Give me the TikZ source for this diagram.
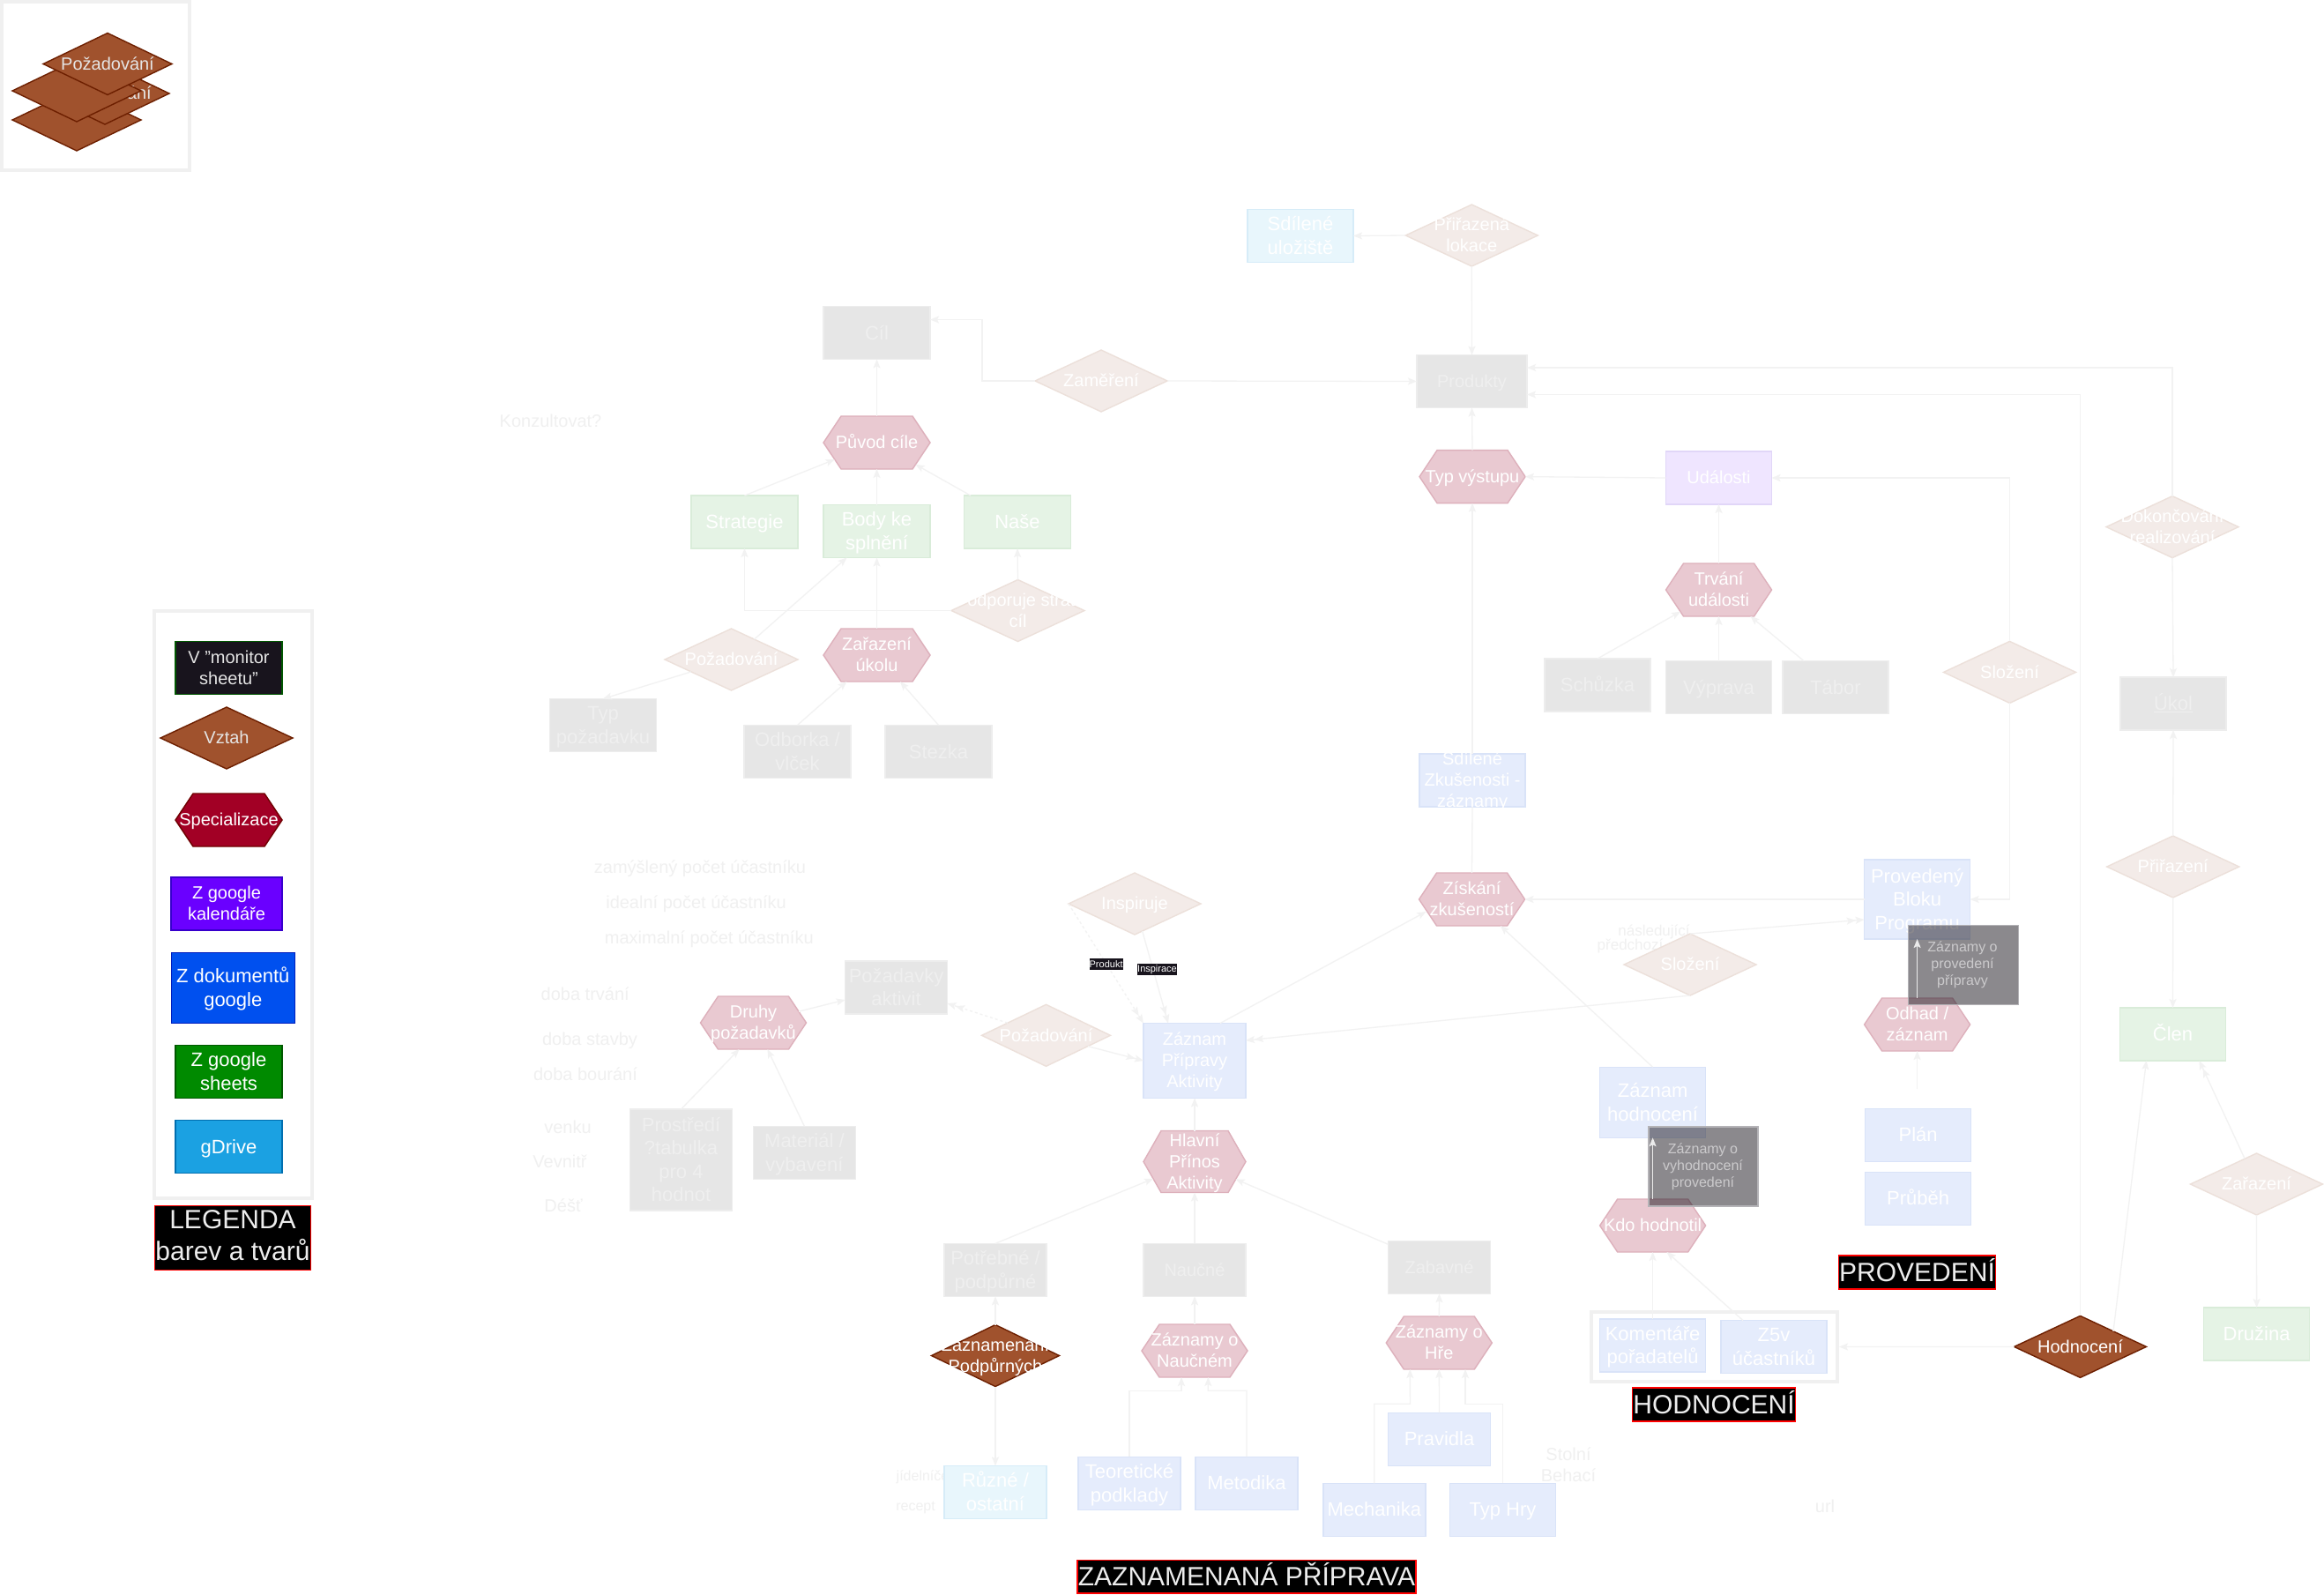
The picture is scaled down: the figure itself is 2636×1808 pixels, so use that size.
\documentclass[tikz,border=0pt]{standalone}
\usepackage{fontspec}
\setmainfont{Liberation Sans}
\usetikzlibrary{arrows.meta,shapes.misc,shapes.geometric,shapes.symbols,calc}
\newcommand\hs{\rule[-.212em]{0pt}{1.117em}}
\definecolor{edgec}{HTML}{F2F2F2}
\definecolor{gtxt}{HTML}{EFEFEF}
\definecolor{freec}{HTML}{F0F0F0}
\definecolor{framec}{HTML}{F0F0F0}
\definecolor{gf}{HTML}{E6E6E6}\definecolor{gd}{HTML}{EDEDED}
\definecolor{grf}{HTML}{E5F3E5}\definecolor{grd}{HTML}{D9ECD9}
\definecolor{blf}{HTML}{E5ECFC}\definecolor{bld}{HTML}{D9E3F8}
\definecolor{skf}{HTML}{E8F6FC}\definecolor{skd}{HTML}{D6ECF8}
\definecolor{puf}{HTML}{EFE5FF}\definecolor{pud}{HTML}{E1D6F8}
\definecolor{hxf}{HTML}{E9C9D1}\definecolor{hxd}{HTML}{DDB0BB}
\definecolor{dif}{HTML}{F3EBE8}\definecolor{did}{HTML}{ECE0DA}
\definecolor{brf}{HTML}{A0522D}\definecolor{brd}{HTML}{6D1F00}
\definecolor{mon}{HTML}{18141D}\definecolor{shd}{HTML}{B4B3B7}\definecolor{sht}{HTML}{CBCACC}
\definecolor{ttx}{HTML}{EDEDED}
\definecolor{lgdk}{HTML}{005700}\definecolor{spf}{HTML}{A20025}\definecolor{spd}{HTML}{6F0000}
\definecolor{kaf}{HTML}{6A00FF}\definecolor{kad}{HTML}{3700CC}
\definecolor{dof}{HTML}{0050EF}\definecolor{dod}{HTML}{001DBC}
\definecolor{shf}{HTML}{008A00}
\definecolor{drf}{HTML}{1BA1E2}\definecolor{drd}{HTML}{006EAF}
\tikzset{
  x=1pt,y=-1pt,
  sz/.style 2 args={minimum width=#1pt,minimum height=#2pt},
  base/.style={inner sep=0pt,outer sep=0pt,line width=1.4pt},
  ft20/.style={font=\fontsize{20}{24}\selectfont,align=center,inner sep=0pt,outer sep=0pt},
  ft22/.style={font=\fontsize{22}{26.5}\selectfont,align=center,inner sep=0pt,outer sep=0pt},
  Tw/.style={label={[ft20,text=white]center:{\hs #1\hs}}},
  Tww/.style={label={[ft22,text=white]center:{\hs #1\hs}}},
  Tg/.style={label={[ft22,text=gtxt]center:{\hs #1\hs}}},
  Tgg/.style={label={[ft20,text=gtxt]center:{\hs #1\hs}}},
  Tl/.style={label={[ft20,text=white!90!black]center:{\hs #1\hs}}},
  greybox/.style={base,rectangle,fill=gf,draw=gd},
  greenbox/.style={base,rectangle,fill=grf,draw=grd},
  bluebox/.style={base,rectangle,fill=blf,draw=bld},
  skybox/.style={base,rectangle,fill=skf,draw=skd},
  purplebox/.style={base,rectangle,fill=puf,draw=pud},
  hx/.style={base,shape=signal,signal to=east and west,signal pointer angle=112.6,fill=hxf,draw=hxd},
  dia/.style={base,diamond,fill=dif,draw=did},
  brown/.style={base,diamond,fill=brf,draw=brd},
  frame/.style={rectangle,inner sep=0pt,outer sep=0pt,draw=framec,fill=none},
  shade/.style={rectangle,inner sep=0pt,outer sep=0pt,fill=mon,fill opacity=.5,draw=shd,line width=1.4pt},
  shadetxt/.style={font=\fontsize{16}{19}\selectfont,align=center,text=sht,inner sep=0pt,execute at begin node=\hs,execute at end node=\hs},
  title/.style={rectangle,inner sep=0pt,outer sep=0pt,fill=black,draw=red,line width=1.6pt,text=ttx,font=\fontsize{30}{36.5}\selectfont,align=center,execute at begin node=\hs,execute at end node=\hs},
  tag/.style={rectangle,inner sep=0pt,outer sep=0pt,fill=mon,text=white,font=\fontsize{11}{13}\selectfont},
  free/.style={text=freec,font=\fontsize{20}{24}\selectfont,align=center,inner sep=0pt,execute at begin node=\hs,execute at end node=\hs},
  freesm/.style={text=freec,font=\fontsize{16}{19}\selectfont,align=center,inner sep=0pt,execute at begin node=\hs,execute at end node=\hs},
  arr/.style={draw=edgec,line width=1.3pt,-{Stealth[length=10pt,width=8pt,inset=2pt]}},
  arrr/.style={draw=edgec,line width=1.3pt,-{Stealth[length=10pt,width=8pt,inset=2pt]Stealth[length=10pt,width=8pt,inset=2pt]}},
  plain/.style={draw=edgec,line width=1.3pt},
  warr/.style={draw=white!92!black,line width=1.4pt,-{Stealth[length=10pt,width=8pt,inset=2pt]}},
}
\begin{document}
\begin{tikzpicture}
\useasboundingbox (0,0) rectangle (2636,1808);
\fill[white] (0,0) rectangle (2636,1808);
% top-left stack
\node[frame,line width=4.5pt,sz={213}{191}] (topf) at (108.5,97.5) {};
\node[brown,sz={146}{70}] (d4) at (87,136) {};
\node[brown,sz={146}{70},Tl={Požadování}] (d2) at (119,106) {};
\node[brown,sz={146}{70}] (d3) at (87,103) {};
\node[brown,sz={146}{70},Tl={Požadování}] (d1) at (122,72.5) {};
% legend
\node[frame,line width=3.5pt,sz={179}{666}] (legf) at (264.5,1026) {};
\node[base,rectangle,fill=mon,draw=lgdk,sz={121}{60},Tl={V "monitor\\sheetu"}] (l1) at (259.5,757.5) {};
\node[brown,sz={150}{70},Tl={Vztah}] (l2) at (257,837) {};
\node[hx,fill=spf,draw=spd,sz={121}{60},Tw={Specializace}] (l3) at (259.5,930) {};
\node[base,rectangle,fill=kaf,draw=kad,sz={126}{60},Tw={Z google\\kalendáře}] (l4) at (257,1025) {};
\node[base,rectangle,fill=dof,draw=dod,sz={140}{80},Tww={Z dokumentů\\google}] (l5) at (264.3,1120.5) {};
\node[base,rectangle,fill=shf,draw=lgdk,sz={121}{60},Tww={Z google\\sheets}] (l6) at (259.5,1215.5) {};
\node[base,rectangle,fill=drf,draw=drd,sz={121}{60},Tww={gDrive}] (l7) at (259.5,1300.6) {};
\node[title,sz={177}{73}] (tleg) at (264,1404) {LEGENDA\\barev a tvarů};
% free labels
\node[free] (t1) at (624.5,478) {Konzultovat?};
\node[free] (t2) at (794,983.3) {zamýšlený počet účastníku};
\node[free] (t3) at (789.6,1023.3) {idealní počet účastníku};
\node[free] (t4) at (804.3,1063.3) {maximalní počet účastníku};
\node[free] (t5) at (663.7,1127.7) {doba trvání};
\node[free] (t6) at (669,1178.3) {doba stavby};
\node[free] (t7) at (664,1218.3) {doba bourání};
\node[free] (t8) at (644,1278.3) {venku};
\node[free] (t9) at (635,1317.7) {Vevnitř};
\node[free] (t10) at (639,1367.3) {Déšť};
\node[freesm] (t11) at (1050.5,1674) {jídelníček};
\node[freesm] (t12) at (1038.5,1708) {recept};
\node[free] (t13) at (1779,1663) {Stolní\\Behací};
\node[free] (t14) at (2070,1709) {url};
\node[font=\fontsize{17}{20}\selectfont,text=freec,inner sep=0pt] (t15) at (1876,1056.7) {následující};
\node[font=\fontsize{17}{20}\selectfont,text=freec,inner sep=0pt] (t16) at (1849,1072.7) {předchozí};
% upper left cluster
\node[greybox,sz={121}{60},Tg={Cíl}] (cil) at (994.5,377.5) {};
\node[dia,sz={150}{70},Tw={Zaměření}] (zam) at (1249,432) {};
\node[hx,sz={121}{60},Tw={Původ cíle}] (puv) at (994.5,502) {};
\node[greenbox,sz={121}{60},Tww={Strategie}] (str) at (844.5,592) {};
\node[greenbox,sz={121}{60},Tww={Body ke\\splnění}] (bod) at (994.5,602.5) {};
\node[greenbox,sz={121}{60},Tww={Naše}] (nas) at (1154,592) {};
\node[dia,sz={151}{70},Tw={Podporuje strat.\\cíl}] (pod) at (1154.5,692.5) {};
\node[hx,sz={121}{60},Tw={Zařazení\\úkolu}] (zar) at (994.5,743) {};
\node[dia,sz={151}{70},Tw={Požadování}] (pzA) at (829.5,748) {};
\node[greybox,sz={121}{60},Tg={Typ\\požadavku}] (typ) at (684,822.5) {};
\node[greybox,sz={121}{60},Tg={Odborka /\\vlček}] (odb) at (904.5,852.4) {};
\node[greybox,sz={121}{60},Tg={Stezka}] (ste) at (1064.5,852.4) {};
% upper centre
\node[skybox,sz={120}{60},Tww={Sdílené\\uložiště}] (sul) at (1475,267.5) {};
\node[dia,sz={150}{70},Tw={Přiřazená\\lokace}] (lok) at (1669.3,267) {};
\node[greybox,sz={125}{60},Tgg={Produkty}] (pro) at (1669.5,432.5) {};
\node[hx,sz={120}{60},Tw={Typ výstupu}] (tvy) at (1670,540.6) {};
\node[purplebox,sz={120}{60},Tw={Události}] (uda) at (1949.5,542) {};
\node[hx,sz={120}{60},Tw={Trvání\\události}] (trv) at (1949.5,669) {};
\node[greybox,sz={120}{60},Tg={Schůzka}] (sch) at (1812,777) {};
\node[greybox,sz={120}{60},Tg={Výprava}] (vyp) at (1949.5,779.7) {};
\node[greybox,sz={120}{60},Tg={Tábor}] (tab) at (2082,779.7) {};
\node[dia,sz={150}{70},Tw={Složení}] (slB) at (2279.5,762.4) {};
\node[dia,sz={150}{70},Tw={Dokončování\\realizování}] (dok) at (2464,597.6) {};
\node[greybox,sz={120}{60},Tg={\underline{Úkol}}] (uko) at (2465,798) {};
\node[bluebox,sz={120}{60},Tw={Sdílené\\Zkušenosti -\\záznamy}] (szk) at (1670,885) {};
\node[hx,sz={120}{60},Tw={Získání\\zkušeností}] (zis) at (1669.5,1020) {};
% middle
\node[dia,sz={150}{70},Tw={Inspiruje}] (ins) at (1287,1025) {};
\node[bluebox,sz={116}{85},Tw={Záznam\\Přípravy\\Aktivity}] (zpa) at (1355,1203) {};
\node[hx,signal pointer angle=120.5,sz={116}{70},Tw={Hlavní\\Přínos\\Aktivity}] (hla) at (1355,1317.5) {};
\node[dia,sz={146}{70},Tw={Požadování}] (pzB) at (1186.5,1174.3) {};
\node[greybox,sz={116}{60},Tg={Požadavky\\aktivit}] (pak) at (1016.6,1120) {};
\node[hx,sz={120}{60},Tw={Druhy\\požadavků}] (dru) at (854.5,1160) {};
\node[greybox,sz={116}{115},Tg={Prostředí\\?tabulka\\pro 4\\hodnot}] (prs) at (772.5,1315.5) {};
\node[greybox,sz={116}{60},Tg={Materiál /\\vybavení}] (mat) at (912.4,1307.3) {};
\node[dia,sz={150}{70},Tw={Složení}] (slA) at (1917,1094) {};
\node[bluebox,sz={120}{90},Tww={Provedený\\Bloku\\Programu}] (prv) at (2174.6,1020) {};
\node[hx,sz={120}{60},Tw={Odhad /\\záznam}] (odh) at (2174.6,1162) {};
\node[bluebox,sz={120}{60},Tww={Plán}] (pla) at (2175.6,1287.3) {};
\node[bluebox,sz={120}{60},Tww={Průběh}] (prb) at (2175.6,1359.3) {};
\node[bluebox,sz={120}{80},Tww={Záznam\\hodnocení}] (zho) at (1874.6,1250.3) {};
\node[hx,sz={120}{60},Tw={Kdo hodnotil}] (kdo) at (1874.6,1390) {};
% right
\node[dia,sz={150}{70},Tw={Přiřazení}] (pri) at (2464.7,983) {};
\node[greenbox,sz={120}{60},Tww={Člen}] (cle) at (2464.5,1173) {};
\node[dia,sz={150}{70},Tw={Zařazení}] (zaP) at (2559.5,1343) {};
\node[greenbox,sz={120}{60},Tww={Družina}] (dru2) at (2559.6,1513) {};
\node[brown,sz={150}{70},Tw={Hodnocení}] (hod) at (2359.5,1527.4) {};
% evaluation group
\node[frame,line width=4.5pt,sz={279}{79}] (grp) at (1944.5,1527.5) {};
\node[bluebox,sz={120}{60},Tww={Komentáře\\pořadatelů}] (kom) at (1874.6,1526) {};
\node[bluebox,sz={120}{60},Tww={Z5v\\účastníků}] (z5v) at (2012,1527.6) {};
% bottom
\node[greybox,sz={116}{60},Tg={Potřebné /\\podpůrné}] (pot) at (1129,1440.3) {};
\node[greybox,sz={116}{60},Tgg={Naučné}] (nau) at (1355,1440.3) {};
\node[greybox,sz={116}{60},Tgg={Zabavné}] (zab) at (1632.5,1437.3) {};
\node[brown,sz={145}{70},Tw={Zaznamenání\\Podpůrných}] (zpd) at (1129,1537.5) {};
\node[hx,sz={120}{60},Tw={Záznamy o\\Naučném}] (zna) at (1355,1532) {};
\node[hx,sz={120}{60},Tw={Záznamy o\\Hře}] (zhr) at (1632.3,1523) {};
\node[skybox,sz={116}{60},Tww={Různé /\\ostatní}] (ruz) at (1129,1692.3) {};
\node[bluebox,sz={116}{60},Tww={Teoretické\\podklady}] (teo) at (1281,1682.3) {};
\node[bluebox,sz={116}{60},Tww={Metodika}] (met) at (1413.9,1682.3) {};
\node[bluebox,sz={116}{60},Tww={Pravidla}] (prd) at (1632.5,1632.3) {};
\node[bluebox,sz={116}{60},Tww={Mechanika}] (mec) at (1558.8,1712.3) {};
\node[bluebox,sz={120}{60},Tww={Typ Hry}] (thr) at (1704.5,1712.3) {};
% titles
\node[title,sz={384}{37.4}] (tzp) at (1414,1788) {ZAZNAMENANÁ PŘÍPRAVA};
\node[title,sz={185}{37.5}] (thd) at (1944,1593) {HODNOCENÍ};
\node[title,sz={178}{37.5}] (tpv) at (2174.5,1443) {PROVEDENÍ};
% connectors
\draw[arr] (puv.north) -- (cil.south);
\draw[arr] (zam.west) -- ++(-60,0) |- ($(cil.east)+(0,-15)$);
\draw[arr] (zam.east) -- (pro.west);
\draw[arr] (str.north) -- (puv);
\draw[arr] (bod.north) -- (puv.south);
\draw[arr] (nas) -- (puv);
\draw[arr] (pod.west) -| (str.south);
\draw[arr] (pod.north) -- (nas.south);
\draw[arr] (zar.north) -- (bod.south);
\draw[arr] (pzA) -- (bod);
\draw[arr] (pzA) -- (typ.north);
\draw[arr] (odb.north) -- (zar);
\draw[arr] (ste.north) -- (zar);
\draw[arr] (lok.west) -- (sul.east);
\draw[arr] (lok.south) -- (pro.north);
\draw[arr] (tvy.north) -- (pro.south);
\draw[arr] (uda.west) -- (tvy.east);
\draw[arr] (trv.north) -- (uda.south);
\draw[arr] (sch.north) -- (trv);
\draw[arr] (vyp.north) -- (trv.south);
\draw[arr] (tab) -- (trv);
\draw[arr] (slB.north) |- (uda.east);
\draw[arr] (slB.south) |- (prv.east);
\draw[arr] (dok.north) |- ($(pro.east)+(0,-15.5)$);
\draw[arr] (hod.north) |- ($(pro.east)+(0,15)$);
\draw[arr] (dok.south) -- (uko.north);
\draw[arr] (pri.north) -- (uko.south);
\draw[arr] (pri.south) -- (cle.north);
\draw[arr] (hod.north east) -- ($(cle.south)+(-30,0)$);
\draw[arrr] (zaP) -- ($(cle.south)+(30,0)$);
\draw[arr] (zaP.south) -- (dru2.north);
\draw[arr] (hod.west) -- ($(grp.east)+(2,0)$);
\draw[arr] (szk.north) -- (tvy.south);
\draw[plain] (zis.north) -- (szk.south);
\draw[arr] (prv.west) -- (zis.east);
\draw[arrr] (slA.north) -- ($(prv.west)+(0,23)$);
\draw[arrr] (slA.south) -- ($(zpa.east)+(0,-23)$);
\draw[arr] (zho.north) -- (zis);
\draw[arr] ($(zpa.north)+(29,0)$) -- ($(zis.west)+(8,14)$);
\draw[arrr,dashed] (ins.west) -- (zpa.north west);
\draw[arrr] (ins) -- ($(zpa.north)+(-30,0)$);
\draw[arrr] (pzB) -- (zpa.west);
\draw[arrr,dashed] (pzB) -- ($(pak.east)+(0,18)$);
\draw[arr] (dru) -- ($(pak.west)+(0,14)$);
\draw[arr] (prs.north) -- ($(dru.south)+(-16,0)$);
\draw[arr] (mat.north) -- ($(dru.south)+(16,0)$);
\draw[arr] (hla.north) -- (zpa.south);
\draw[arr] (nau.north) -- (hla.south);
\draw[arr] (pot.north) -- (hla);
\draw[arr] ($(zab.west)+(0,-26)$) -- (hla);
\draw[arr] (zpd.north) -- (pot.south);
\draw[arr] (zpd.south) -- (ruz.north);
\draw[arr] (zna.north) -- (nau.south);
\draw[arr] (zhr.north) -- (zab.south);
\draw[arr] (teo.north) |- ++(59,-75) -- ($(zna.south)+(-15,0)$);
\draw[arr] (met.north) |- ++(-43.6,-75) -- ($(zna.south)+(15.3,0)$);
\draw[arr] (prd.north) -- (zhr.south);
\draw[arr] (mec.north) |- ++(40.6,-90) -- ($(zhr.south)+(-33,0)$);
\draw[arr] (thr.north) |- ++(-42.5,-90) -- ($(zhr.south)+(29.7,0)$);
\draw[arr] (kom.north) -- (kdo.south);
\draw[arr] ($(z5v.north)+(-35,0)$) -- ($(kdo.south)+(16,0)$);
\coordinate (plt) at (2174.6,1235);
\draw[arr] (plt) -- (odh.south);
% tags
\node[tag,sz={37}{13}] (tg1) at (1254.6,1093.7) {Produkt};
\node[tag,sz={45}{13}] (tg2) at (1312.5,1099.3) {Inspirace};
% translucent overlays
\node[shade,sz={125}{90}] (ov1) at (2227,1094.5) {};
\node[shadetxt] (ov1t) at (2226,1094.5) {Záznamy o\\provedení\\přípravy};
\node[shade,sz={124}{90}] (ov2) at (1931.8,1323) {};
\node[shadetxt] (ov2t) at (1931.5,1323) {Záznamy o\\vyhodnocení\\provedení};
\draw[warr] (odh.north) -- (prv.south);
\draw[warr] (kdo.north) -- (zho.south);
\end{tikzpicture}
\end{document}
